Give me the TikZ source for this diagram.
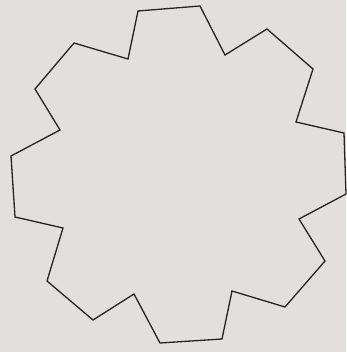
\documentclass[tikz,border=0pt]{standalone}
\usepackage{tikz}
\definecolor{bg}{HTML}{E3DFDC}
\definecolor{ink}{HTML}{2A2222}
\tikzset{gear/.style={draw=ink,line width=1.3pt,line join=miter}}
\begin{document}
\begin{tikzpicture}[x=1pt,y=-1pt]
\fill[bg] (0,0) rectangle (346,352);
\useasboundingbox (0,0) rectangle (346,352);
\draw[gear] (138,11) -- (200,6) -- (225,55) -- (267,29) -- (313,69) -- (296,122)
 -- (344,133) -- (346,194) -- (299,219) -- (325,261) -- (285,307) -- (232,291)
 -- (222,339) -- (160,343) -- (134,294) -- (93,320) -- (47,281) -- (63,228)
 -- (15,217) -- (11,156) -- (60,130) -- (35,89) -- (74,43) -- (128,59) -- cycle;
\end{tikzpicture}
\end{document}
